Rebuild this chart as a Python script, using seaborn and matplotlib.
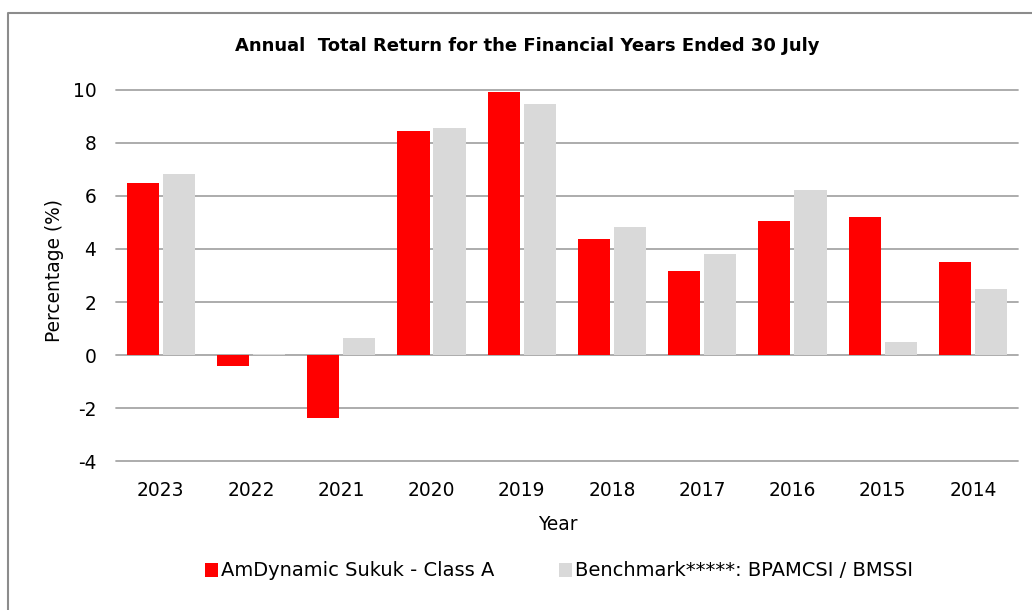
import matplotlib
matplotlib.use("Agg")
import matplotlib.pyplot as plt
import seaborn as sns
import pandas as pd
from matplotlib.lines import Line2D
from matplotlib.patches import Patch

years = ["2023", "2022", "2021", "2020", "2019", "2018", "2017", "2016", "2015", "2014"]
fund_name = "AmDynamic Sukuk - Class A"
bench_name = "Benchmark*****: BPAMCSI / BMSSI"
fund_returns = [6.47, -0.40, -2.36, 8.45, 9.92, 4.37, 3.16, 5.05, 5.20, 3.50]
bench_returns = [6.81, 0.05, 0.64, 8.56, 9.45, 4.83, 3.80, 6.23, 0.49, 2.49]
y_ticks = [-4, -2, 0, 2, 4, 6, 8, 10]

df = pd.DataFrame({
    "Year": years * 2,
    "Return": fund_returns + bench_returns,
    "Series": [fund_name] * len(years) + [bench_name] * len(years),
})

sns.set_theme(style="white")
plt.rcParams["font.family"] = ["DejaVu Sans"]
plt.rcParams["text.color"] = "#000000"
plt.rcParams["axes.labelcolor"] = "#000000"

W, H = 1032, 610
fig = plt.figure(figsize=(W / 100, H / 100), dpi=100)
ax = fig.add_axes([115.7 / W, 1 - 461.3 / H, (1018 - 115.7) / W, (461.3 - 89.7) / H])

colors = {fund_name: "#ff0000", bench_name: "#d9d9d9"}
sns.barplot(data=df, x="Year", y="Return", hue="Series", order=years,
            hue_order=[fund_name, bench_name], palette=colors, saturation=1,
            width=0.8, gap=0.11, ax=ax, legend=False, edgecolor="none", zorder=3)

ax.set_ylim(-4, 10)
ax.set_xlim(-0.5, len(years) - 0.5)
ax.set_yticks(y_ticks)
ax.set_yticklabels([str(t) for t in y_ticks])
ax.grid(axis="y", color="#a6a6a6", linewidth=1.3, zorder=0)
ax.grid(axis="x", visible=False)
for gl in ax.get_ygridlines():
    gl.set_clip_on(False)
ax.set_axisbelow(True)
for s in ax.spines.values():
    s.set_visible(False)
ax.tick_params(axis="both", length=0, labelsize=13.4, colors="#000000")
ax.tick_params(axis="y", pad=14)
ax.tick_params(axis="x", pad=14)

ax.set_xlabel("Year", fontsize=13.4, color="#000000")
ax.xaxis.label.set_va("center")
ax.xaxis.set_label_coords((558 - 115.7) / 902.3, (461.3 - 525) / 371.6)
ax.set_ylabel("Percentage (%)", fontsize=13.4, color="#000000")
ax.yaxis.label.set_va("center")
ax.yaxis.set_label_coords((54.5 - 115.7) / 902.3, (461.3 - 270) / 371.6)

fig.text(527 / W, 1 - 46 / H, "Annual  Total Return for the Financial Years Ended 30 July",
         ha="center", va="center", fontsize=13, fontweight="bold", color="#000000")

handles = [Patch(facecolor=colors[fund_name], edgecolor="none", label=fund_name),
           Patch(facecolor=colors[bench_name], edgecolor="none", label=bench_name)]
fig.legend(handles=handles, loc="center", bbox_to_anchor=(559 / W, 1 - 571 / H),
           ncol=2, frameon=False, fontsize=14, handlelength=0.7, handleheight=0.7,
           handletextpad=0.15, columnspacing=3.3, borderaxespad=0, labelcolor="#000000")

frame = Line2D([8 / W, 8 / W, 1.0], [0.0, 1 - 12.5 / H, 1 - 12.5 / H],
               transform=fig.transFigure, color="#8c8c8c", linewidth=1.5)
fig.add_artist(frame)

fig.savefig("out.png", dpi=100, facecolor="white")
